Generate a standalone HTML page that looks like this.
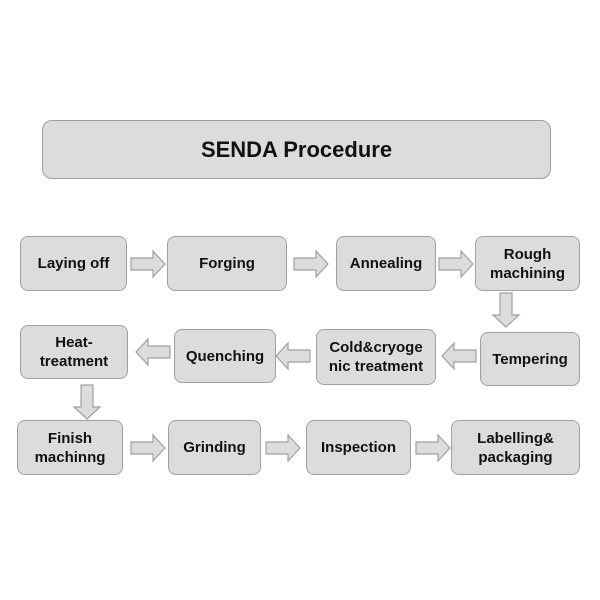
<!DOCTYPE html>
<html><head><style>
body{margin:0;width:600px;height:600px;background:#fff;position:relative;font-family:"Liberation Sans",Arial,sans-serif;overflow:hidden}
.b{position:absolute;box-sizing:border-box;background:#dcdcdc;border:1.5px solid #a0a0a0;border-radius:8px;display:flex;align-items:center;justify-content:center;text-align:center;font-weight:bold;font-size:15px;line-height:19px;color:#111}
svg{position:absolute;left:0;top:0}
</style></head><body>
<div class="b" style="left:42px;top:120px;width:509px;height:59px;font-size:22px;border-radius:10px">SENDA Procedure</div>
<div class="b" style="left:20px;top:236px;width:107px;height:55px">Laying off</div>
<div class="b" style="left:167px;top:236px;width:120px;height:55px">Forging</div>
<div class="b" style="left:336px;top:236px;width:100px;height:55px">Annealing</div>
<div class="b" style="left:475px;top:236px;width:105px;height:55px">Rough<br>machining</div>
<div class="b" style="left:20px;top:325px;width:108px;height:54px">Heat-<br>treatment</div>
<div class="b" style="left:174px;top:329px;width:102px;height:54px">Quenching</div>
<div class="b" style="left:316px;top:329px;width:120px;height:56px">Cold&amp;cryoge<br>nic treatment</div>
<div class="b" style="left:480px;top:332px;width:100px;height:54px">Tempering</div>
<div class="b" style="left:17px;top:420px;width:106px;height:55px">Finish<br>machinng</div>
<div class="b" style="left:168px;top:420px;width:93px;height:55px">Grinding</div>
<div class="b" style="left:306px;top:420px;width:105px;height:55px">Inspection</div>
<div class="b" style="left:451px;top:420px;width:129px;height:55px">Labelling&amp;<br>packaging</div>
<svg width="600" height="600" fill="#dcdcdc" stroke="#a0a0a0" stroke-width="1.2">
<defs><g id="r"><polygon points="0,-6 22,-6 22,-13 34,0 22,13 22,6 0,6"/></g></defs>
<use href="#r" transform="translate(131,264)"/>
<use href="#r" transform="translate(294,264)"/>
<use href="#r" transform="translate(439,264)"/>
<use href="#r" transform="translate(131,448)"/>
<use href="#r" transform="translate(266,448)"/>
<use href="#r" transform="translate(416,448)"/>
<use href="#r" transform="translate(476,356) scale(-1,1)"/>
<use href="#r" transform="translate(310,356) scale(-1,1)"/>
<use href="#r" transform="translate(170,352) scale(-1,1)"/>
<use href="#r" transform="translate(506,293) rotate(90)"/>
<use href="#r" transform="translate(87,385) rotate(90)"/>
</svg>
</body></html>
